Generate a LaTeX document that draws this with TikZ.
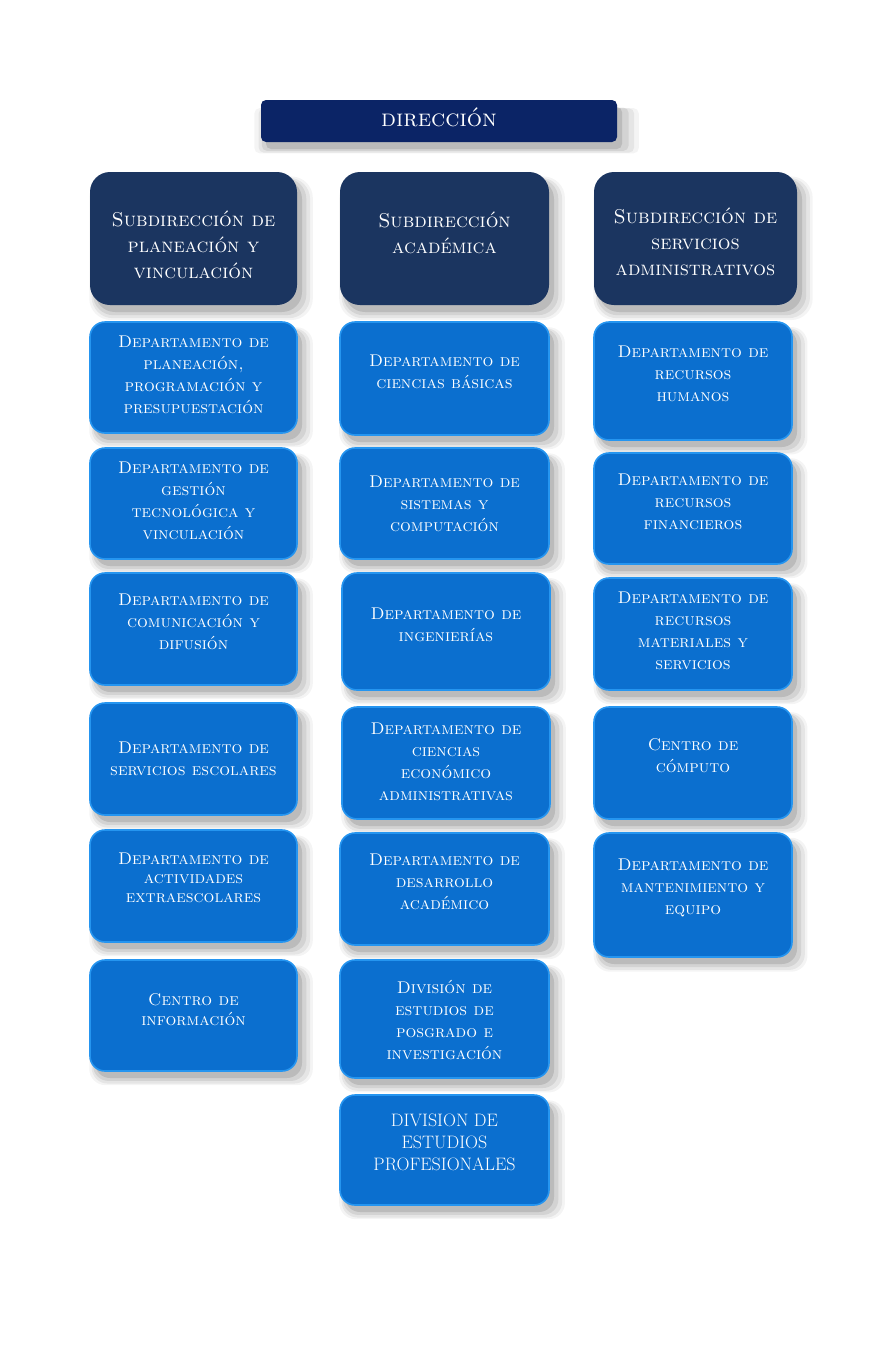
\documentclass[tikz,border=0pt]{standalone}
\usetikzlibrary{shadows}
\definecolor{navy}{HTML}{0B2466}
\definecolor{subdir}{HTML}{1B3560}
\definecolor{dept}{HTML}{0B6FCF}
\definecolor{deptedge}{HTML}{2595F0}
\tikzset{
  soft/.style={
    drop shadow={shadow xshift=7pt, shadow yshift=-9pt, shadow scale=1.08, opacity=0.045, fill=black},
    drop shadow={shadow xshift=7pt, shadow yshift=-9pt, shadow scale=1.055, opacity=0.06, fill=black},
    drop shadow={shadow xshift=6pt, shadow yshift=-8pt, shadow scale=1.03, opacity=0.08, fill=black},
    drop shadow={shadow xshift=5pt, shadow yshift=-7pt, opacity=0.11, fill=black}},
  dirbox/.style={soft, fill=navy, rounded corners=5pt},
  subbox/.style={soft, fill=subdir, rounded corners=20pt},
  depbox/.style={soft, fill=dept, draw=deptedge, line width=1.6pt, rounded corners=15pt},
  lbl/.style={text=white, align=center, inner sep=0pt},
  dirtxt/.style={lbl, font=\fontsize{24}{28}\selectfont\scshape},
  subtxt/.style={lbl, font=\fontsize{20}{26}\selectfont\scshape},
  deptxt/.style={lbl, font=\fontsize{17}{22}\selectfont\scshape},
  captxt/.style={lbl, font=\fontsize{18}{22}\selectfont},
}
% \bx{name}{x1}{y1}{x2}{y2}{box style}{text style}{dy}{text}
\newcommand\bx[9]{%
  \node[#6, minimum width={(#4-#2)*1pt}, minimum height={(#5-#3)*1pt}] (#1) at ({(#2+#4)/2},{(#3+#5)/2}) {};
  \node[#7] (#1t) at ([yshift={-(#8)*1pt}]#1.center) {#9};}
\begin{document}
\begin{tikzpicture}[x=1pt,y=-1pt]
\useasboundingbox[fill=white] (0,0) rectangle (874,1350);
\bx{dir}{261}{100}{617}{142}{dirbox}{dirtxt}{-4}{dirección}
% subdirecciones
\bx{s1}{90}{172}{297}{305}{subbox}{subtxt}{6}{Subdirección de\\ planeación y\\ vinculación}
\bx{s2}{340}{172}{549}{305}{subbox}{subtxt}{-6}{Subdirección\\ académica}
\bx{s3}{594}{172}{797}{305}{subbox}{subtxt}{3}{Subdirección de\\ servicios\\ administrativos}
% column 1
\bx{a1}{90}{322}{297}{433}{depbox}{deptxt}{-3}{Departamento de\\ planeación,\\ programación y\\ presupuestación}
\bx{a2}{90}{448}{297}{559}{depbox}{deptxt}{-3}{Departamento de\\ gestión\\ tecnológica y\\ vinculación}
\bx{a3}{90}{573}{297}{685}{depbox}{deptxt}{-7}{Departamento de\\ comunicación y\\ difusión}
\bx{a4}{90}{703}{297}{815}{depbox}{deptxt}{0}{Departamento de\\ servicios escolares}
\bx{a5}{90}{830}{297}{942}{depbox}{deptxt}{-8}{Departamento de\\[-3pt] actividades\\[-3pt] extraescolares}
\bx{a6}{90}{960}{297}{1071}{depbox}{deptxt}{-6}{Centro de\\[-2pt] información}
% column 2
\bx{b1}{340}{322}{549}{435}{depbox}{deptxt}{-7}{Departamento de\\ ciencias básicas}
\bx{b2}{340}{448}{549}{559}{depbox}{deptxt}{0}{Departamento de\\ sistemas y\\ computación}
\bx{b3}{342}{573}{550}{690}{depbox}{deptxt}{-7}{Departamento de\\ ingenierías}
\bx{b4}{342}{707}{550}{819}{depbox}{deptxt}{-1}{Departamento de\\ ciencias\\ económico\\ administrativas}
\bx{b5}{340}{833}{549}{945}{depbox}{deptxt}{-7}{Departamento de\\ desarrollo\\ académico}
\bx{b6}{340}{960}{549}{1078}{depbox}{deptxt}{1}{División de\\ estudios de\\ posgrado e\\ investigación}
\bx{b7}{340}{1095}{549}{1205}{depbox}{captxt}{-8}{DIVISION DE\\ ESTUDIOS\\ PROFESIONALES}
% column 3
\bx{c1}{594}{322}{792}{440}{depbox}{deptxt}{-7}{Departamento de\\ recursos\\ humanos}
\bx{c2}{594}{453}{792}{564}{depbox}{deptxt}{-7}{Departamento de\\ recursos\\ financieros}
\bx{c3}{594}{578}{792}{690}{depbox}{deptxt}{-3}{Departamento de\\ recursos\\ materiales y\\ servicios}
\bx{c4}{594}{707}{792}{819}{depbox}{deptxt}{-7}{Centro de\\ cómputo}
\bx{c5}{594}{833}{792}{957}{depbox}{deptxt}{-7}{Departamento de\\ mantenimiento y\\ equipo}
\end{tikzpicture}
\end{document}
